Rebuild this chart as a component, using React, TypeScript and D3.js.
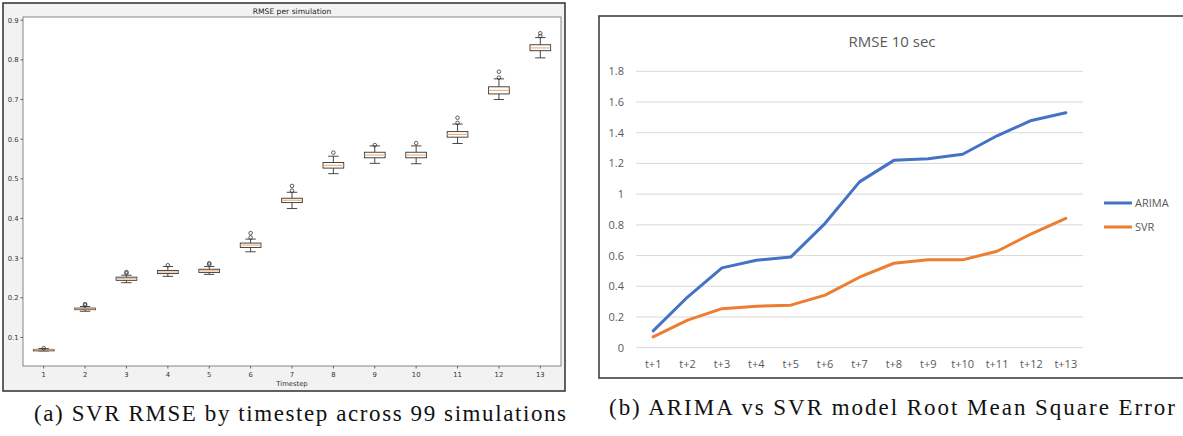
import React from 'react'
import * as d3 from 'd3'

// left panel: SVR RMSE box plots per timestep
const timesteps = [1, 2, 3, 4, 5, 6, 7, 8, 9, 10, 11, 12, 13]
const boxQ1 = [0.068, 0.170, 0.244, 0.261, 0.264, 0.327, 0.440, 0.527, 0.553, 0.553, 0.605, 0.714, 0.823]
const boxMedian = [0.069, 0.172, 0.248, 0.265, 0.268, 0.333, 0.446, 0.534, 0.560, 0.560, 0.612, 0.723, 0.830]
const boxQ3 = [0.070, 0.174, 0.252, 0.269, 0.272, 0.338, 0.451, 0.541, 0.567, 0.567, 0.619, 0.732, 0.838]
const whiskerLow = [0.066, 0.166, 0.238, 0.254, 0.259, 0.316, 0.425, 0.513, 0.539, 0.538, 0.589, 0.700, 0.805]
const whiskerHigh = [0.072, 0.178, 0.257, 0.279, 0.279, 0.348, 0.466, 0.557, 0.583, 0.583, 0.638, 0.752, 0.856]
const fliers = [
  [0.073],
  [0.181, 0.184],
  [0.262, 0.265],
  [0.282],
  [0.284, 0.287],
  [0.352, 0.363],
  [0.470, 0.482],
  [0.566],
  [0.585],
  [0.590],
  [0.641, 0.654],
  [0.755, 0.770],
  [0.860, 0.867],
]
const leftTicks = [0.1, 0.2, 0.3, 0.4, 0.5, 0.6, 0.7, 0.8, 0.9]

// right panel: ARIMA vs SVR
const stepLabels = ['t+1', 't+2', 't+3', 't+4', 't+5', 't+6', 't+7', 't+8', 't+9', 't+10', 't+11', 't+12', 't+13']
const arimaRmse = [0.11, 0.33, 0.52, 0.57, 0.59, 0.81, 1.08, 1.22, 1.23, 1.26, 1.38, 1.48, 1.53]
const svrRmse = [0.07, 0.18, 0.254, 0.27, 0.277, 0.342, 0.459, 0.55, 0.572, 0.572, 0.628, 0.742, 0.842]
const seriesNames = ['ARIMA', 'SVR']
const seriesColors = ['#4472c4', '#ed7d31']

const captions = [
  '(a) SVR RMSE by timestep across 99 simulations',
  '(b) ARIMA vs SVR model Root Mean Square Error',
]

function BoxPanel() {
  const x = d3.scaleLinear().domain([0.5, 13.5]).range([23, 561])
  const y = d3.scaleLinear().domain([0.028, 0.908]).range([366, 17])
  const font = 'DejaVu Sans, sans-serif'
  const half = x(1.25) - x(1) // half box width
  const capHalf = half / 2

  return (
    <g>
      <rect x={3} y={3} width={562} height={388} fill="#f2f2f2" stroke="#3a3a3a" strokeWidth={1.6} />
      <rect x={23} y={17} width={538} height={349} fill="#fff" stroke="#7a7a7a" strokeWidth={0.9} />
      <text x={292} y={13.5} textAnchor="middle" fontFamily={font} fontSize={7.6} fill="#222">
        RMSE per simulation
      </text>
      {leftTicks.map((t) => (
        <g key={t}>
          <line x1={20.5} x2={23} y1={y(t)} y2={y(t)} stroke="#444" strokeWidth={0.8} />
          <text x={18.5} y={y(t) + 2.5} textAnchor="end" fontFamily={font} fontSize={6.8} fill="#333">
            {t.toFixed(1)}
          </text>
        </g>
      ))}
      {timesteps.map((t) => (
        <g key={t}>
          <line x1={x(t)} x2={x(t)} y1={366} y2={368.5} stroke="#444" strokeWidth={0.8} />
          <text x={x(t)} y={377} textAnchor="middle" fontFamily={font} fontSize={6.8} fill="#333">
            {t}
          </text>
        </g>
      ))}
      <text x={292} y={386} textAnchor="middle" fontFamily={font} fontSize={6.8} fill="#333">
        Timestep
      </text>
      {timesteps.map((t, i) => {
        const cx = x(t)
        return (
          <g key={'b' + t} stroke="#333" strokeWidth={0.9} fill="none">
            <line x1={cx} x2={cx} y1={y(whiskerLow[i])} y2={y(boxQ1[i])} />
            <line x1={cx} x2={cx} y1={y(boxQ3[i])} y2={y(whiskerHigh[i])} />
            <line x1={cx - capHalf} x2={cx + capHalf} y1={y(whiskerLow[i])} y2={y(whiskerLow[i])} />
            <line x1={cx - capHalf} x2={cx + capHalf} y1={y(whiskerHigh[i])} y2={y(whiskerHigh[i])} />
            <rect
              x={cx - half}
              y={y(boxQ3[i])}
              width={half * 2}
              height={Math.max(y(boxQ1[i]) - y(boxQ3[i]), 1.5)}
              fill="#fff"
            />
            <line
              x1={cx - half}
              x2={cx + half}
              y1={y(boxMedian[i])}
              y2={y(boxMedian[i])}
              stroke="#f0a460"
              strokeWidth={1}
            />
            {fliers[i].map((f, j) => (
              <circle key={j} cx={cx} cy={y(f)} r={1.8} stroke="#333" strokeWidth={0.8} />
            ))}
          </g>
        )
      })}
    </g>
  )
}

function LinePanel() {
  const x = d3.scaleBand().domain(stepLabels).range([636, 1083])
  const y = d3.scaleLinear().domain([0, 1.8]).range([347.7, 71.3])
  const font = 'Open Sans, sans-serif'
  const cx = (d: string) => (x(d) as number) + x.bandwidth() / 2
  const line = d3
    .line<number>()
    .x((d, i) => cx(stepLabels[i]))
    .y((d) => y(d))
  const series = [arimaRmse, svrRmse]

  return (
    <g>
      <rect x={599} y={16} width={600} height={362} fill="#fff" stroke="#404040" strokeWidth={1.6} />
      <text x={892} y={47} textAnchor="middle" fontFamily={font} fontSize={15} fill="#595959">
        RMSE 10 sec
      </text>
      {y.ticks(9).map((t) => (
        <g key={t}>
          <line x1={636} x2={1083} y1={y(t)} y2={y(t)} stroke="#d9d9d9" strokeWidth={1} />
          <text x={624} y={y(t) + 4} textAnchor="end" fontFamily={font} fontSize={11} fill="#595959">
            {d3.format('~g')(+t.toFixed(1))}
          </text>
        </g>
      ))}
      {stepLabels.map((s) => (
        <text key={s} x={cx(s)} y={368} textAnchor="middle" fontFamily={font} fontSize={11} fill="#595959">
          {s}
        </text>
      ))}
      {series.map((vals, i) => (
        <path
          key={i}
          d={line(vals) as string}
          fill="none"
          stroke={seriesColors[i]}
          strokeWidth={3}
          strokeLinejoin="round"
          strokeLinecap="round"
        />
      ))}
      {seriesNames.map((n, i) => (
        <g key={n}>
          <line x1={1104} x2={1132} y1={203 + i * 24} y2={203 + i * 24} stroke={seriesColors[i]} strokeWidth={3} />
          <text x={1135} y={207 + i * 24} fontFamily={font} fontSize={11} fill="#595959">
            {n}
          </text>
        </g>
      ))}
    </g>
  )
}

export default function App() {
  const serif = 'Liberation Serif, DejaVu Serif, serif'
  return (
    <svg
      width={1183}
      height={436}
      style={{position: 'absolute', left: 0, top: 0, background: '#fff'}}
    >
      <BoxPanel />
      <LinePanel />
      <text x={300} y={421} textAnchor="middle" fontFamily={serif} fontSize={23} fill="#111"
        textLength={532} lengthAdjust="spacing">
        {captions[0]}
      </text>
      <text x={892} y={415} textAnchor="middle" fontFamily={serif} fontSize={23} fill="#111"
        textLength={566} lengthAdjust="spacing">
        {captions[1]}
      </text>
    </svg>
  )
}
